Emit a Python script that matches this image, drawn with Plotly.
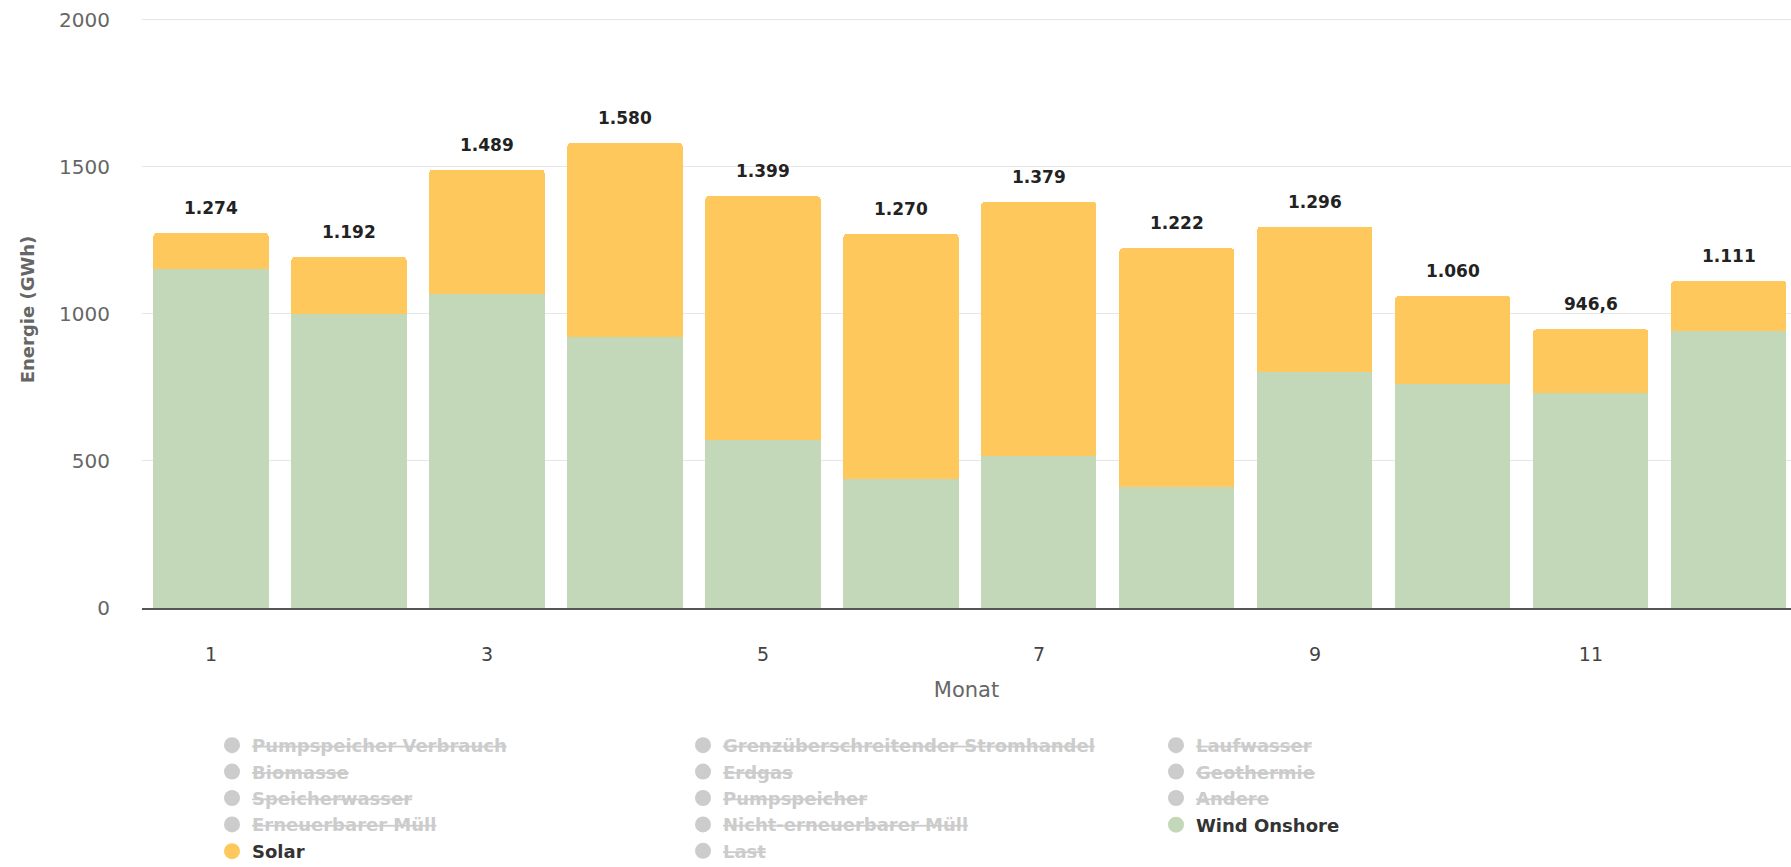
import plotly.graph_objects as go

# ---- data ----
months = [1, 2, 3, 4, 5, 6, 7, 8, 9, 10, 11, 12]
totals = [1274, 1192, 1489, 1580, 1399, 1270, 1379, 1222, 1296, 1060, 946.6, 1111]
wind_onshore = [1152, 998, 1068, 921, 572, 440, 517, 412, 802, 762, 732, 941]
solar = [round(t - w, 1) for t, w in zip(totals, wind_onshore)]

legend_col1_hidden = ["Pumpspeicher Verbrauch", "Biomasse", "Speicherwasser", "Erneuerbarer Müll"]
legend_col2_hidden = ["Grenzüberschreitender Stromhandel", "Erdgas", "Pumpspeicher",
                      "Nicht-erneuerbarer Müll", "Last"]
legend_col3_hidden = ["Laufwasser", "Geothermie", "Andere"]

y_ticks = [0, 500, 1000, 1500, 2000]

GREEN = "#c2d8b8"
YELLOW = "#fec85c"
GREY = "#cccccc"
FONT = "DejaVu Sans"


def de_fmt(v):
    if v >= 1000:
        return f"{int(round(v)):,}".replace(",", ".")
    return f"{v:.1f}".replace(".", ",")


fig = go.Figure()
fig.add_trace(go.Bar(x=months, y=wind_onshore, name="Wind Onshore", marker_color=GREEN,
                     marker_line_width=0, showlegend=False))
fig.add_trace(go.Bar(x=months, y=solar, name="Solar", marker_color=YELLOW,
                     marker_line_width=0, showlegend=False))


def legend_entry(name, color, legend):
    fig.add_trace(go.Scatter(x=[None], y=[None], mode="markers", name=name,
                             marker=dict(color=color, size=16, symbol="circle"),
                             legend=legend, showlegend=True, hoverinfo="skip"))


for n in legend_col1_hidden:
    legend_entry(n, GREY, "legend")
legend_entry("Solar", YELLOW, "legend2")
for n in legend_col2_hidden:
    legend_entry(n, GREY, "legend3")
for n in legend_col3_hidden:
    legend_entry(n, GREY, "legend4")
legend_entry("Wind Onshore", GREEN, "legend5")

for m, t in zip(months, totals):
    fig.add_annotation(x=m, y=t, text=de_fmt(t), showarrow=False, yanchor="middle", yshift=25,
                       font=dict(family=FONT, size=17, color="#222222", weight="bold"))

W, H = 1791, 867
L, R, B = 142, 0, 259
Y_TOP = 2029           # axis range top (keeps the 2000 grid line visible)
px_per_unit = 588 / 2000
T = int(round(H - B - Y_TOP * px_per_unit))
pw = W - L - R
ph = H - T - B


def px(x):
    return (x - L) / pw


def py(y):
    return (H - B - y) / ph


hid_font = dict(family=FONT, size=18, color=GREY, weight="bold", lineposition="through")
on_font = dict(family=FONT, size=18, color="#333333", weight="bold")
row0 = 727
rowh = 26.5
common = dict(xanchor="left", yanchor="top", bgcolor="rgba(0,0,0,0)", borderwidth=0,
              orientation="v", tracegroupgap=0, traceorder="normal",
              itemclick=False, itemdoubleclick=False)

fig.update_layout(
    width=W, height=H,
    margin=dict(l=L, r=R, t=T, b=B, autoexpand=False),
    paper_bgcolor="white", plot_bgcolor="white",
    barmode="stack", bargap=0.166, barcornerradius=3,
    font=dict(family=FONT, size=19, color="#666666"),
    xaxis=dict(range=[0.5, 12.45], tickmode="linear", tick0=1, dtick=2,
               showgrid=False, zeroline=False, showline=True, linecolor="#555555", linewidth=2,
               ticks="outside", ticklen=28, tickcolor="rgba(0,0,0,0)",
               tickfont=dict(family=FONT, size=19, color="#444444"),
               title=dict(text="Monat", standoff=19, font=dict(family=FONT, size=21, color="#666666")),
               fixedrange=True),
    yaxis=dict(range=[0, Y_TOP], tickvals=y_ticks, ticktext=[str(v) for v in y_ticks],
               showgrid=True, gridcolor="#e6e6e6", gridwidth=1, zeroline=False, showline=False,
               ticks="outside", ticklen=27, tickcolor="rgba(0,0,0,0)",
               tickfont=dict(family=FONT, size=20, color="#666666"),
               title=dict(text="Energie (GWh)", standoff=19,
                          font=dict(family=FONT, size=18, color="#666666", weight="bold")),
               fixedrange=True),
    legend=dict(x=px(212), y=py(row0), font=hid_font, **common),
    legend2=dict(x=px(212), y=py(row0 + 4 * rowh), font=on_font, **common),
    legend3=dict(x=px(683), y=py(row0), font=hid_font, **common),
    legend4=dict(x=px(1156), y=py(row0), font=hid_font, **common),
    legend5=dict(x=px(1156), y=py(row0 + 3 * rowh), font=on_font, **common),
    showlegend=True,
)

# remove the browser's default 8px body margin so the figure sits at the page origin
fig.write_html("out.html", config={"displayModeBar": False},
               post_script="document.body.style.margin='0';")
